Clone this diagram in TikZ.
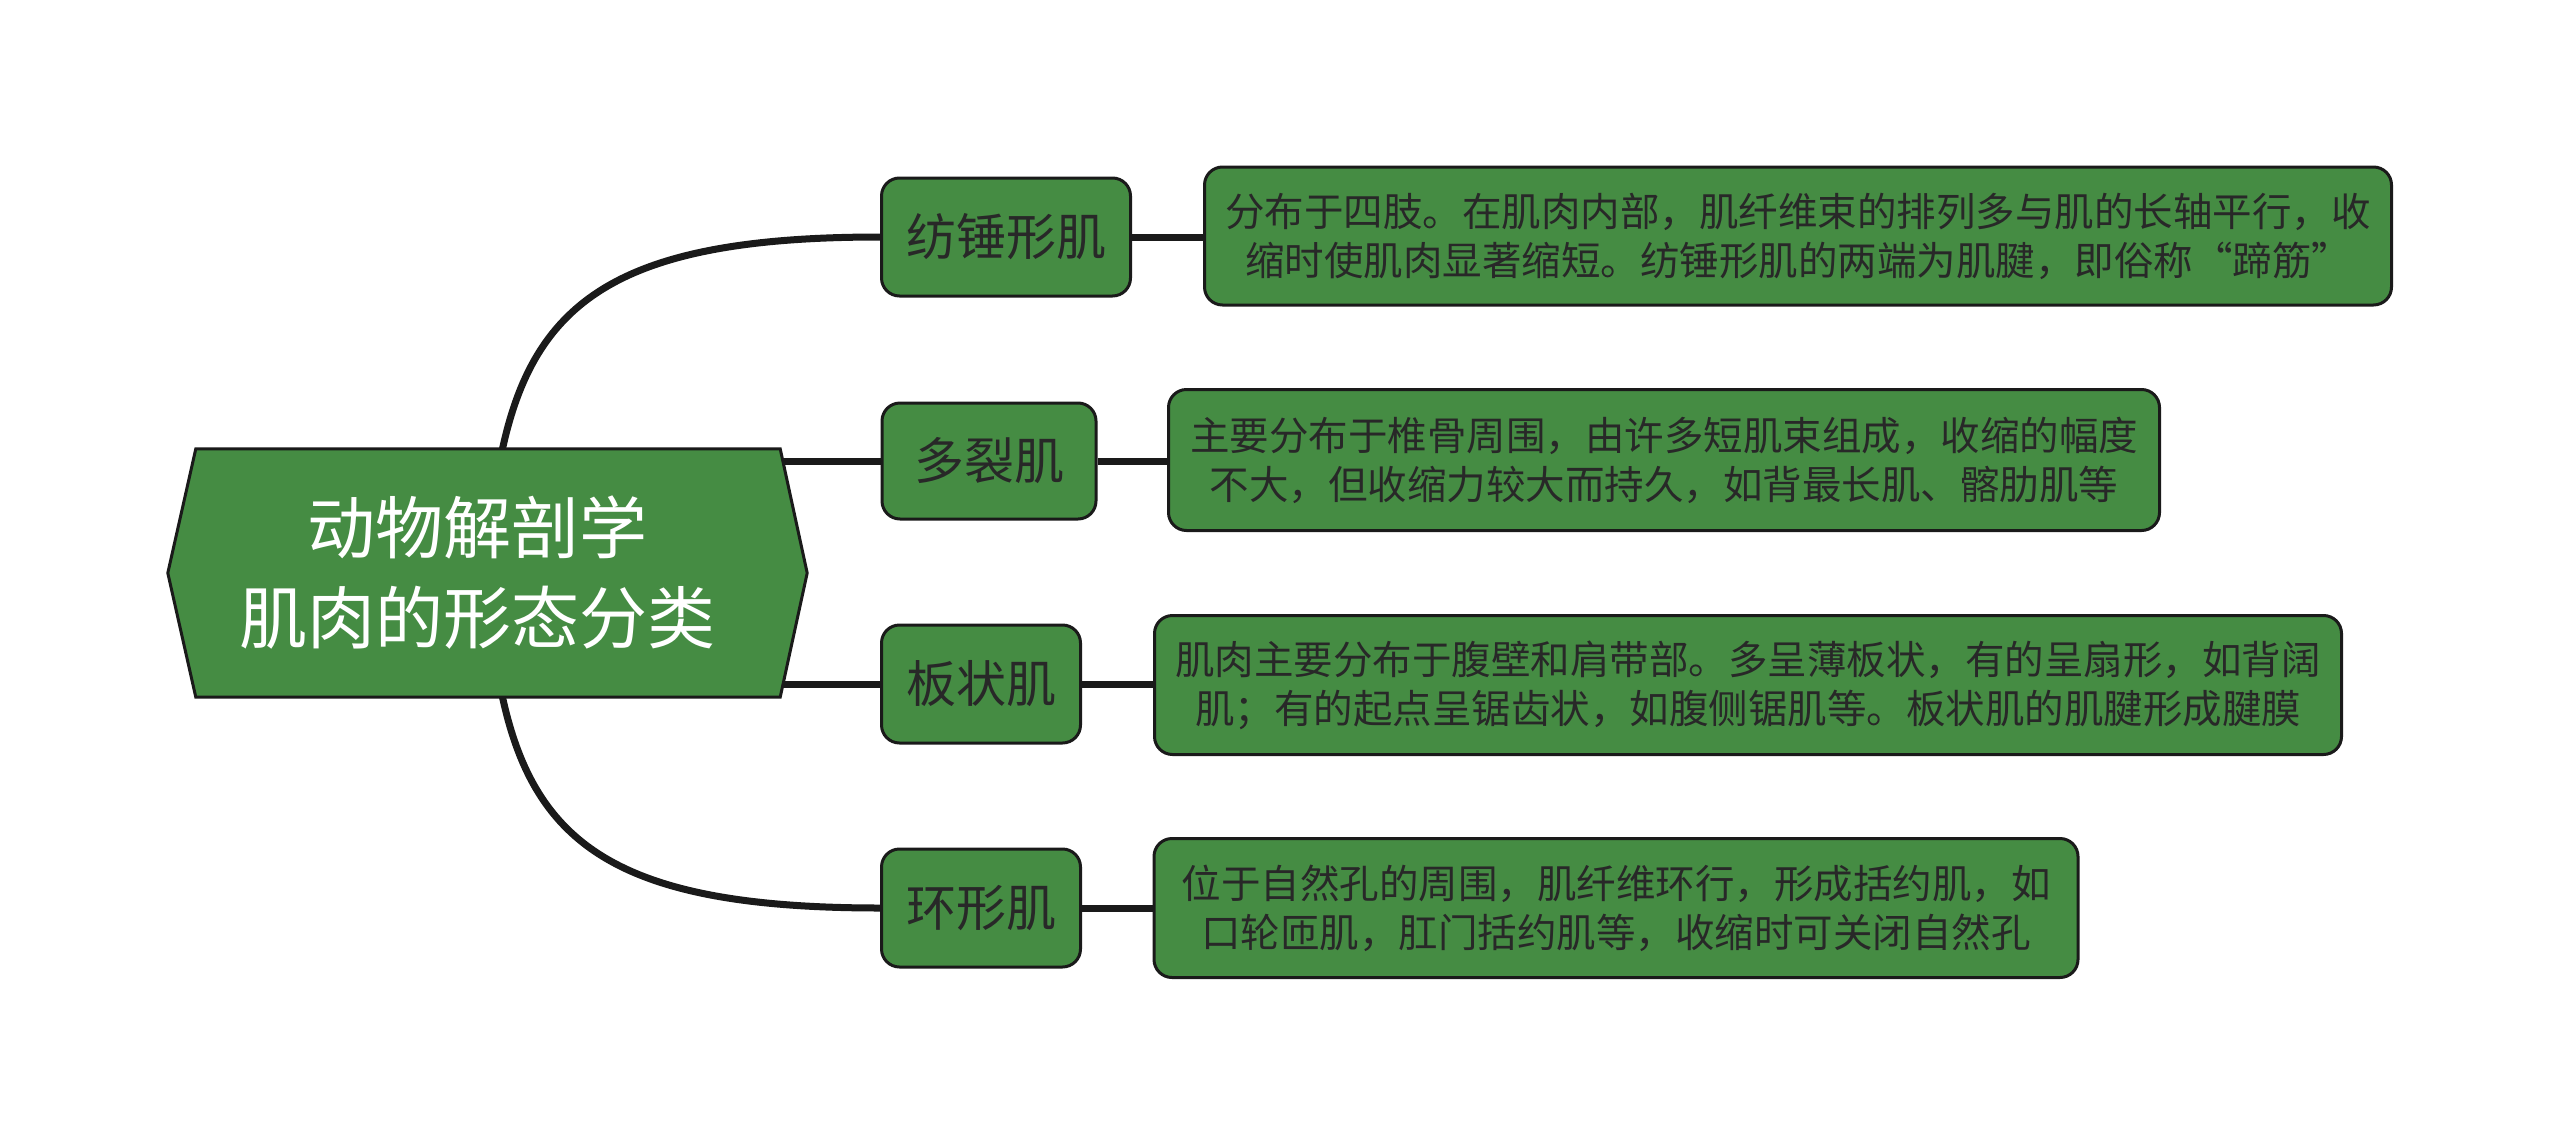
\documentclass[tikz,border=0pt]{standalone}
\usepackage{fontspec}
\setmainfont{Noto Sans CJK SC}
\usetikzlibrary{backgrounds}
\definecolor{nodegreen}{RGB}{69,140,67}
\definecolor{edgeblack}{RGB}{26,26,26}
\definecolor{txtdark}{RGB}{40,40,40}
\tikzset{
  mainbox/.style={draw=edgeblack, line width=3pt, fill=nodegreen, rounded corners=18pt,
    inner sep=0pt, align=center, text=txtdark},
  topicbox/.style={mainbox, font=\fontsize{50}{58}\selectfont},
  detailbox/.style={mainbox, font=\fontsize{39.5}{49}\selectfont},
  link/.style={draw=edgeblack, line width=7pt},
  rootshape/.style={draw=edgeblack, line width=3pt, fill=nodegreen, line join=miter}
}
\begin{document}
\begin{tikzpicture}[x=1pt, y=-1pt]
\useasboundingbox (0,0) rectangle (2560,1146);
% root text
\node[text=white, font=\fontsize{68}{90}\selectfont, align=center,
  minimum width=639pt, minimum height=248pt, inner sep=0pt] (root) at (487.5,573)
  {\hspace*{-20pt}动物解剖学\\\hspace*{-20pt}肌肉的形态分类};
% topics
\node[topicbox, minimum width=249pt, minimum height=118pt] (L1) at (1006,237) {纺锤形肌};
\node[topicbox, minimum width=214pt, minimum height=116pt] (L2) at (989,461) {多裂肌};
\node[topicbox, minimum width=199pt, minimum height=118pt] (L3) at (981,684) {板状肌};
\node[topicbox, minimum width=199pt, minimum height=118pt] (L4) at (981,908) {环形肌};
% details
\node[detailbox, minimum width=1187pt, minimum height=138pt] (D1) at (1798,236)
  {分布于四肢。在肌肉内部，肌纤维束的排列多与肌的长轴平行，收\\缩时使肌肉显著缩短。纺锤形肌的两端为肌腱，即俗称“蹄筋”};
\node[detailbox, minimum width=991pt, minimum height=141pt] (D2) at (1664,460)
  {主要分布于椎骨周围，由许多短肌束组成，收缩的幅度\\不大，但收缩力较大而持久，如背最长肌、髂肋肌等};
\node[detailbox, minimum width=1187pt, minimum height=139pt] (D3) at (1748,685)
  {肌肉主要分布于腹壁和肩带部。多呈薄板状，有的呈扇形，如背阔\\肌；有的起点呈锯齿状，如腹侧锯肌等。板状肌的肌腱形成腱膜};
\node[detailbox, minimum width=924pt, minimum height=139pt] (D4) at (1616,908)
  {位于自然孔的周围，肌纤维环行，形成括约肌，如\\口轮匝肌，肛门括约肌等，收缩时可关闭自然孔};
\begin{scope}[on background layer]
  \fill[white] (0,0) rectangle (2560,1146);
  % root to topics
  \draw[link] ([xshift=15pt]root.north) .. controls (535,300) and (620,237) .. (L1.west);
  \draw[link] (L2.west) -- (L2.west -| root.center);
  \draw[link] (L3.west) -- (L3.west -| root.center);
  \draw[link] ([xshift=15pt]root.south) .. controls (535,846) and (620,908) .. (L4.west);
  % topics to details
  \draw[link] (L1.east) -- (L1.east -| D1.west);
  \draw[link] (L2.east) -- (L2.east -| D2.west);
  \draw[link] (L3.east) -- (L3.east -| D3.west);
  \draw[link] (L4.east) -- (L4.east -| D4.west);
  % root hexagon
  \draw[rootshape] (root.west) -- ([xshift=28pt]root.north west) -- ([xshift=-27pt]root.north east)
    -- (root.east) -- ([xshift=-27pt]root.south east) -- ([xshift=28pt]root.south west) -- cycle;
\end{scope}
\end{tikzpicture}
\end{document}
